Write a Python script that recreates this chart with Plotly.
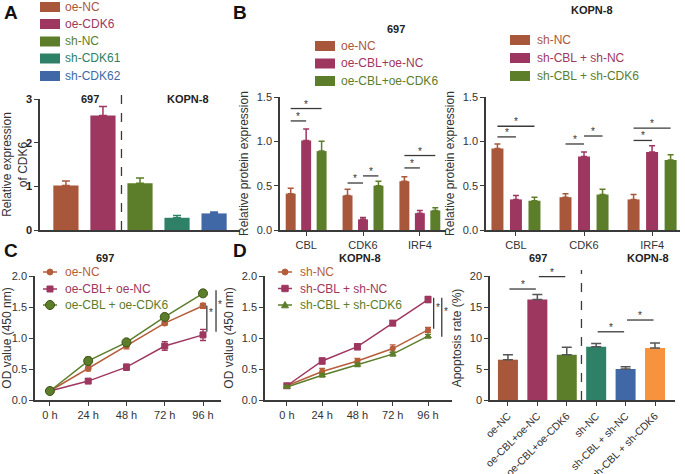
import plotly.graph_objects as go
import numpy as np

W, H = 685, 474
def px(x): return x / W
def py(y): return 1 - y / H

FONT = "Liberation Sans, Arial, sans-serif"
BROWN = '#A9573B'; MAROON = '#9E3760'; OLIVE = '#5C7D2A'
TEAL = '#2E8066'; BLUE = '#4168A6'; ORANGE = '#F7933E'
AX = '#3a3a3a'

# ---------------- data ----------------
# Panel A
a_groups = ['oe-NC', 'oe-CDK6', 'sh-NC', 'sh-CDK61', 'sh-CDK62']
a_mean = [1.02, 2.62, 1.07, 0.28, 0.38]
a_err = [0.10, 0.21, 0.12, 0.05, 0.03]
a_colors = [BROWN, MAROON, OLIVE, TEAL, BLUE]

# Panel B
b_genes = ['CBL', 'CDK6', 'IRF4']
b697_groups = ['oe-NC', 'oe-CBL+oe-NC', 'oe-CBL+oe-CDK6']
b697_oe_nc = [0.41, 0.39, 0.55]
b697_oe_nc_err = [0.06, 0.07, 0.05]
b697_oecbl_nc = [1.01, 0.12, 0.19]
b697_oecbl_nc_err = [0.13, 0.02, 0.03]
b697_oecbl_cdk6 = [0.89, 0.50, 0.22]
b697_oecbl_cdk6_err = [0.11, 0.05, 0.03]
b697_sig = [(0, 0, 1, 1.23), (0, 0, 2, 1.37), (1, 0, 1, 0.53),
            (1, 1, 2, 0.61), (2, 0, 1, 0.70), (2, 0, 2, 0.84)]

bk_groups = ['sh-NC', 'sh-CBL + sh-NC', 'sh-CBL + sh-CDK6']
bk_sh_nc = [0.92, 0.37, 0.345]
bk_sh_nc_err = [0.05, 0.04, 0.055]
bk_shcbl_nc = [0.345, 0.83, 0.88]
bk_shcbl_nc_err = [0.045, 0.05, 0.07]
bk_shcbl_cdk6 = [0.33, 0.40, 0.79]
bk_shcbl_cdk6_err = [0.04, 0.06, 0.06]
bk_sig = [(0, 0, 1, 1.05), (0, 0, 2, 1.17), (1, 0, 1, 0.97),
          (1, 1, 2, 1.06), (2, 0, 1, 1.01), (2, 0, 2, 1.15)]

# Panel C / D
times = ['0 h', '24 h', '48 h', '72 h', '96 h']
c_names = ['oe-NC', 'oe-CBL+ oe-NC', 'oe-CBL + oe-CDK6']
c_oe_nc = [0.145, 0.51, 0.875, 1.24, 1.52]
c_oe_nc_err = [0.02, 0.04, 0.05, 0.03, 0.04]
c_oecbl_nc = [0.145, 0.305, 0.53, 0.87, 1.05]
c_oecbl_nc_err = [0.02, 0.03, 0.05, 0.07, 0.09]
c_oecbl_cdk6 = [0.145, 0.63, 0.93, 1.34, 1.72]
c_oecbl_cdk6_err = [0.02, 0.06, 0.03, 0.04, 0.04]
c_sig = [(4.10, 1.10, 1.52), (4.34, 1.10, 1.77)]

d_names = ['sh-NC', 'sh-CBL + sh-NC', 'sh-CBL + sh-CDK6']
d_sh_nc = [0.23, 0.46, 0.63, 0.83, 1.13]
d_sh_nc_err = [0.02, 0.05, 0.04, 0.06, 0.04]
d_shcbl_nc = [0.23, 0.63, 0.86, 1.24, 1.62]
d_shcbl_nc_err = [0.02, 0.05, 0.05, 0.04, 0.05]
d_shcbl_cdk6 = [0.21, 0.40, 0.57, 0.74, 1.03]
d_shcbl_cdk6_err = [0.02, 0.03, 0.03, 0.03, 0.03]
d_sig = [(4.16, 1.15, 1.65), (4.39, 1.02, 1.65)]

# Panel E
e_groups = ['oe-NC', 'oe-CBL+oe-NC', 'oe-CBL+oe-CDK6',
            'sh-NC', 'sh-CBL + sh-NC', 'sh-CBL + sh-CDK6']
e_mean = [6.5, 16.2, 7.3, 8.6, 5.0, 8.4]
e_err = [0.8, 0.8, 1.2, 0.5, 0.35, 0.8]
e_colors = [BROWN, MAROON, OLIVE, TEAL, BLUE, ORANGE]
e_sig = [(0, 1, 17.9), (1, 2, 19.9), (3, 4, 11.0), (4, 5, 12.9)]

# ---------------- figure ----------------
fig = go.Figure()
shapes = []
annots = []

def err_bar(err, color, w=4):
    return dict(type='data', symmetric=False, array=err,
                arrayminus=[0] * len(err), color=color, thickness=1.5, width=w)

# Panel A bars
for i, (g, m, e, c) in enumerate(zip(a_groups, a_mean, a_err, a_colors)):
    fig.add_trace(go.Bar(x=[i], y=[m], width=0.68, marker=dict(color=c, line=dict(width=0)),
                         error_y=err_bar([e], c, 4), xaxis='x', yaxis='y', showlegend=False))

# Panel B bars
BOFF = 0.272
b697_series = [(b697_oe_nc, b697_oe_nc_err, BROWN), (b697_oecbl_nc, b697_oecbl_nc_err, MAROON),
               (b697_oecbl_cdk6, b697_oecbl_cdk6_err, OLIVE)]
for j, (m, e, c) in enumerate(b697_series):
    fig.add_trace(go.Bar(x=np.arange(len(b_genes)) + (j - 1) * BOFF, y=m, width=0.175,
                         marker=dict(color=c, line=dict(width=0)), error_y=err_bar(e, c, 3),
                         xaxis='x2', yaxis='y2', showlegend=False))
bk_series = [(bk_sh_nc, bk_sh_nc_err, BROWN), (bk_shcbl_nc, bk_shcbl_nc_err, MAROON),
             (bk_shcbl_cdk6, bk_shcbl_cdk6_err, OLIVE)]
for j, (m, e, c) in enumerate(bk_series):
    fig.add_trace(go.Bar(x=np.arange(len(b_genes)) + (j - 1) * BOFF, y=m, width=0.176,
                         marker=dict(color=c, line=dict(width=0)), error_y=err_bar(e, c, 3),
                         xaxis='x3', yaxis='y3', showlegend=False))

STAR = dict(size=10, color='#333', family=FONT)

def sig_lines(sig, xr, yr):
    for g, i, j, h in sig:
        x0 = g + (i - 1) * BOFF
        x1 = g + (j - 1) * BOFF
        shapes.append(dict(type='line', xref=xr, yref=yr, x0=x0, x1=x1, y0=h, y1=h,
                           line=dict(color=AX, width=1.3)))
        annots.append(dict(text='*', xref=xr, yref=yr, x=(x0 + x1) / 2, y=h, yanchor='bottom',
                           showarrow=False, font=STAR, yshift=-3))
sig_lines(b697_sig, 'x2', 'y2')
sig_lines(bk_sig, 'x3', 'y3')

# Panel C / D lines
C_BROWN = '#B65E3B'
G_EDGE = '#3B5416'
c_series = [(c_oe_nc, c_oe_nc_err, C_BROWN, 'circle', 6, C_BROWN),
            (c_oecbl_nc, c_oecbl_nc_err, MAROON, 'square', 6, MAROON),
            (c_oecbl_cdk6, c_oecbl_cdk6_err, OLIVE, 'circle', 9, G_EDGE)]
for name, (m, e, c, sym, sz, lc) in zip(c_names, c_series):
    fig.add_trace(go.Scatter(x=times, y=m, mode='lines+markers', name=name,
                             line=dict(color=c, width=1.5),
                             marker=dict(symbol=sym, size=sz, color=c, line=dict(color=lc, width=1)),
                             error_y=dict(type='data', array=e, color=c, thickness=1.3, width=3),
                             xaxis='x4', yaxis='y4', showlegend=False))
d_series = [(d_sh_nc, d_sh_nc_err, C_BROWN, 'circle', 6),
            (d_shcbl_nc, d_shcbl_nc_err, MAROON, 'square', 7),
            (d_shcbl_cdk6, d_shcbl_cdk6_err, OLIVE, 'triangle-up', 7)]
for name, (m, e, c, sym, sz) in zip(d_names, d_series):
    fig.add_trace(go.Scatter(x=times, y=m, mode='lines+markers', name=name,
                             line=dict(color=c, width=1.5),
                             marker=dict(symbol=sym, size=sz, color=c),
                             error_y=dict(type='data', array=e, color=c, thickness=1.3, width=3),
                             xaxis='x5', yaxis='y5', showlegend=False))

for xs, y0, y1 in c_sig:
    shapes.append(dict(type='line', xref='x4', yref='y4', x0=xs, x1=xs, y0=y0, y1=y1,
                       line=dict(color=AX, width=1.3)))
    annots.append(dict(text='*', xref='x4', yref='y4', x=xs + 0.11, y=(y0 + y1) / 2 + 0.1,
                       showarrow=False, font=STAR))
for xs, y0, y1 in d_sig:
    shapes.append(dict(type='line', xref='x5', yref='y5', x0=xs, x1=xs, y0=y0, y1=y1,
                       line=dict(color=AX, width=1.3)))
    annots.append(dict(text='*', xref='x5', yref='y5', x=xs + 0.12, y=(y0 + y1) / 2 + 0.1,
                       showarrow=False, font=STAR))

# Panel E bars
fig.add_trace(go.Bar(x=e_groups, y=e_mean, width=0.68, marker=dict(color=e_colors, line=dict(width=0)),
                     error_y=dict(type='data', symmetric=False, array=e_err, arrayminus=[0] * 6,
                                  color='#555', thickness=1.5, width=5),
                     xaxis='x6', yaxis='y6', showlegend=False))
for i, j, h in e_sig:
    shapes.append(dict(type='line', xref='x6', yref='y6', x0=i + 0.05, x1=j - 0.05, y0=h, y1=h,
                       line=dict(color=AX, width=1.3)))
    annots.append(dict(text='*', xref='x6', yref='y6', x=(i + j) / 2, y=h, yanchor='bottom', yshift=-3,
                       showarrow=False, font=STAR))

# dashed separators
shapes.append(dict(type='line', xref='x', yref='paper', x0=1.5, x1=1.5, y0=py(230), y1=py(93),
                   line=dict(color=AX, width=1.3, dash='dash')))
shapes.append(dict(type='line', xref='x6', yref='paper', x0=2.5, x1=2.5, y0=py(400), y1=py(270),
                   line=dict(color=AX, width=1.3, dash='dash')))

# manual legends
def leg_text(n, x, y, c):
    annots.append(dict(text=n, xref='paper', yref='paper', x=px(x), y=py(y), xanchor='left',
                       yanchor='middle', showarrow=False, font=dict(size=12, color=c, family=FONT)))

def bar_legend(x_sym, x_text, rows, names, colors):
    for yy, n, c in zip(rows, names, colors):
        shapes.append(dict(type='rect', xref='paper', yref='paper', x0=px(x_sym), x1=px(x_sym + 20),
                           y0=py(yy + 5), y1=py(yy - 5), fillcolor=c, line=dict(width=0)))
        leg_text(n, x_text, yy, c)

def line_legend(x0, x1, x_text, rows, names, specs):
    for yy, n, (c, sym, r, edge) in zip(rows, names, specs):
        xc = (x0 + x1) / 2
        shapes.append(dict(type='line', xref='paper', yref='paper', x0=px(x0), x1=px(x1),
                           y0=py(yy), y1=py(yy), line=dict(color=c, width=1.5)))
        if sym == 'circle':
            shapes.append(dict(type='circle', xref='paper', yref='paper', x0=px(xc - r), x1=px(xc + r),
                               y0=py(yy + r), y1=py(yy - r), fillcolor=c, line=dict(color=edge, width=1)))
        elif sym == 'square':
            shapes.append(dict(type='rect', xref='paper', yref='paper', x0=px(xc - r), x1=px(xc + r),
                               y0=py(yy + r), y1=py(yy - r), fillcolor=c, line=dict(color=edge, width=1)))
        else:
            path = (f'M {px(xc - r)} {py(yy + r * 0.8)} L {px(xc + r)} {py(yy + r * 0.8)} '
                    f'L {px(xc)} {py(yy - r)} Z')
            shapes.append(dict(type='path', xref='paper', yref='paper', path=path, fillcolor=c,
                               line=dict(color=edge, width=1)))
        leg_text(n, x_text, yy, c)

bar_legend(40, 63, [7, 24, 41.5, 58.5, 76], a_groups, a_colors)
bar_legend(315, 339, [46, 63.5, 81], b697_groups, [BROWN, MAROON, OLIVE])
bar_legend(510, 535, [40, 58, 76], bk_groups, [BROWN, MAROON, OLIVE])
line_legend(43, 57, 63, [272, 289, 305], c_names,
            [(C_BROWN, 'circle', 3, C_BROWN), (MAROON, 'square', 3, MAROON), (OLIVE, 'circle', 4.5, G_EDGE)])
line_legend(278, 292, 298, [272, 288.5, 305], d_names,
            [(C_BROWN, 'circle', 3, C_BROWN), (MAROON, 'square', 3.2, MAROON), (OLIVE, 'triangle', 3.5, OLIVE)])

# titles
def title(t, x, y, size=11):
    annots.append(dict(text=f'<b>{t}</b>', xref='paper', yref='paper', x=px(x), y=py(y),
                       xanchor='center', yanchor='middle', showarrow=False,
                       font=dict(size=size, color='#222', family=FONT)))
title('697', 90, 99); title('KOPN-8', 188, 99)
title('697', 396, 29); title('KOPN-8', 592, 10)
title('697', 105, 258); title('KOPN-8', 360, 258)
title('697', 538, 258); title('KOPN-8', 648, 258)

for lab, x, y in [('A', 2, 0), ('B', 231, 0), ('C', 2, 238), ('D', 231, 238)]:
    annots.append(dict(text=f'<b>{lab}</b>', xref='paper', yref='paper', x=px(x), y=py(y),
                       xanchor='left', yanchor='top', showarrow=False,
                       font=dict(size=19, color='#111', family=FONT)))

axcommon = dict(showline=True, linecolor=AX, linewidth=1.5, ticks='outside', ticklen=4,
                tickwidth=1.3, tickcolor=AX, showgrid=False, zeroline=False, automargin=False,
                tickfont=dict(size=11, color='#333', family=FONT))
ytitle = dict(font=dict(size=12, color='#333', family=FONT))

fig.update_layout(
    width=W, height=H, margin=dict(l=0, r=0, t=0, b=0, autoexpand=False),
    plot_bgcolor='white', paper_bgcolor='white', barmode='overlay', showlegend=False,
    font=dict(family=FONT),
    xaxis=dict(axcommon, domain=[px(40), px(240)], range=[-0.70, 4.70], ticks='',
               showticklabels=False, anchor='y'),
    yaxis=dict(axcommon, domain=[py(230), py(99)], range=[0, 3], tickvals=[0, 1, 2, 3],
               tickfont=dict(size=11, color='#222', family=FONT, weight='bold'),
               title=dict(text='Relative expression<br>of CDK6', standoff=8, **ytitle), anchor='x'),
    xaxis2=dict(axcommon, domain=[px(280), px(446)], range=[-0.46, 2.46],
                tickvals=[0, 1, 2], ticktext=b_genes, anchor='y2'),
    yaxis2=dict(axcommon, domain=[py(230), py(97)], range=[0, 1.5], tickvals=[0, 0.5, 1, 1.5],
                tickformat='.1f', title=dict(text='Relative protein expression', standoff=6, **ytitle),
                anchor='x2'),
    xaxis3=dict(axcommon, domain=[px(486), px(680)], range=[-0.44, 2.41],
                tickvals=[0, 1, 2], ticktext=b_genes, anchor='y3'),
    yaxis3=dict(axcommon, domain=[py(230), py(97)], range=[0, 1.5], tickvals=[0, 0.5, 1, 1.5],
                tickformat='.1f', title=dict(text='Relative protein expression', standoff=6, **ytitle),
                anchor='x3'),
    xaxis4=dict(axcommon, domain=[px(35), px(221)], range=[-0.39, 4.47], anchor='y4',
                type='category'),
    yaxis4=dict(axcommon, domain=[py(400), py(276)], range=[0, 2], tickvals=[0, 0.5, 1, 1.5, 2],
                tickformat='.1f', title=dict(text='OD value (450 nm)', standoff=6, **ytitle),
                anchor='x4'),
    xaxis5=dict(axcommon, domain=[px(265), px(452)], range=[-0.62, 4.68], anchor='y5',
                type='category'),
    yaxis5=dict(axcommon, domain=[py(400), py(276)], range=[0, 2], tickvals=[0, 0.5, 1, 1.5, 2],
                tickformat='.1f', title=dict(text='OD value (450 nm)', standoff=6, **ytitle),
                anchor='x5'),
    xaxis6=dict(axcommon, domain=[px(490), px(675)], range=[-0.61, 5.68], anchor='y6',
                type='category', tickangle=-45, tickfont=dict(size=10.5, color='#333', family=FONT)),
    yaxis6=dict(axcommon, domain=[py(400), py(276)], range=[0, 20], tickvals=[0, 5, 10, 15, 20],
                title=dict(text='Apoptosis rate (%)', standoff=6, **ytitle), anchor='x6'),
    shapes=shapes, annotations=annots,
)

fig.write_html('out.html', config={'displayModeBar': False},
               post_script="document.body.style.margin='0px';document.body.style.overflow='hidden';")
